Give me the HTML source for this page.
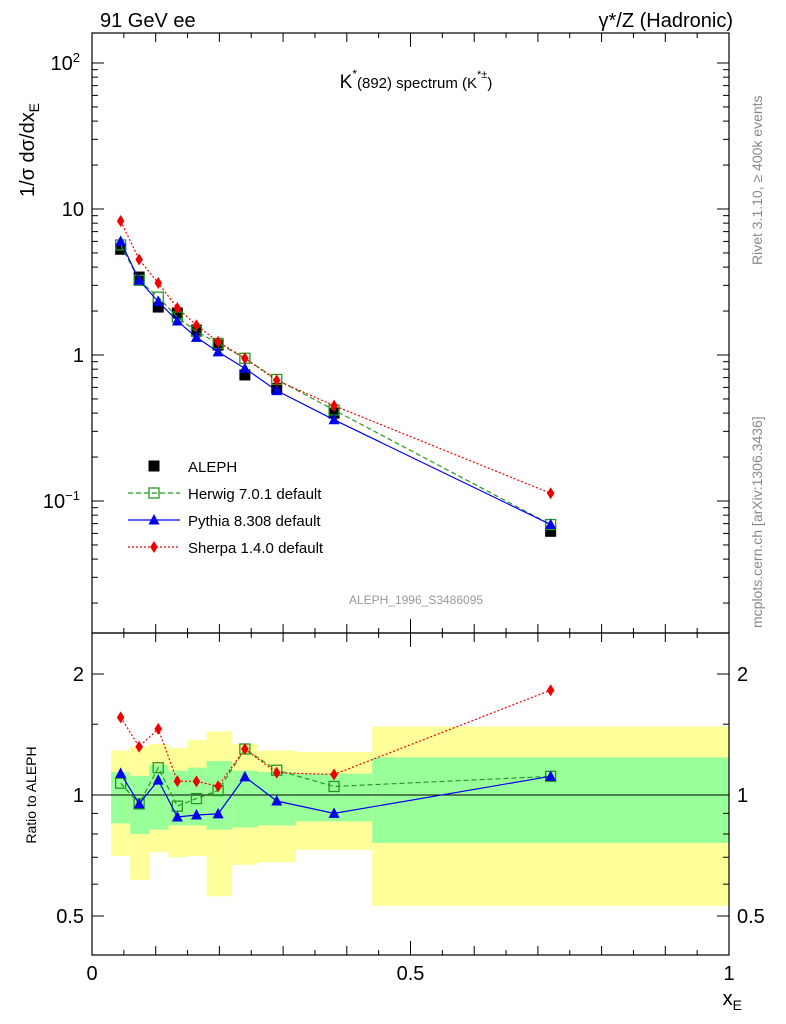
<!DOCTYPE html>
<html><head><meta charset="utf-8">
<style>
body{margin:0;background:#fff;}
svg{display:block;font-family:"Liberation Sans",sans-serif;}
</style></head>
<body>
<svg id="c" width="786" height="1024" viewBox="0 0 786 1024">
<text x="100" y="27" font-size="20">91 GeV ee</text>
<text x="733" y="27" font-size="20" text-anchor="end">γ*/Z (Hadronic)</text>
<text x="416" y="88" font-size="19" text-anchor="middle">K<tspan font-size="12" dy="-10">*</tspan><tspan font-size="15" dy="10">(892) spectrum (K</tspan><tspan font-size="11" dy="-10">*±</tspan><tspan font-size="15" dy="10">)</tspan></text>
<text x="416" y="604" font-size="12" fill="#999" text-anchor="middle">ALEPH_1996_S3486095</text>
<text transform="translate(762,265) rotate(-90)" font-size="14" fill="#888">Rivet 3.1.10, ≥ 400k events</text>
<text transform="translate(762,628) rotate(-90)" font-size="14" fill="#888">mcplots.cern.ch [arXiv:1306.3436]</text>
<text transform="translate(34,150) rotate(-90)" font-size="20" text-anchor="middle">1/σ dσ/dx<tspan font-size="14" dy="5">E</tspan></text>
<text transform="translate(36,795) rotate(-90)" font-size="14" text-anchor="middle">Ratio to ALEPH</text>
<text x="742" y="1005" font-size="20" text-anchor="end">x<tspan font-size="14" dy="5">E</tspan></text>
<g id="g"></g>
</svg>
<script>
const xVals=[0.045,0.074,0.104,0.134,0.164,0.198,0.240,0.290,0.380,0.720];
const binEdges=[0.03,0.06,0.09,0.12,0.15,0.18,0.22,0.26,0.32,0.44,1.0];
const aleph=[5.3,3.42,2.13,1.94,1.48,1.17,0.73,0.59,0.40,0.062];
const herwig=[5.67,3.25,2.49,1.82,1.45,1.2,0.95,0.68,0.42,0.069];
const pythia=[6.0,3.25,2.32,1.71,1.32,1.05,0.81,0.57,0.36,0.069];
const sherpa=[8.27,4.51,3.11,2.10,1.6,1.23,0.95,0.67,0.45,0.113];
const yellowUp=[1.29,1.32,1.34,1.31,1.37,1.44,1.34,1.29,1.28,1.48];
const yellowDn=[0.705,0.615,0.72,0.70,0.705,0.56,0.67,0.68,0.73,0.53];
const greenUp=[1.14,1.115,1.19,1.15,1.17,1.215,1.15,1.14,1.13,1.24];
const greenDn=[0.85,0.80,0.82,0.84,0.84,0.82,0.83,0.84,0.86,0.76];
const ns="http://www.w3.org/2000/svg";
const G=document.getElementById('g');
const L=92,R=729,T=33,M=633,B=955;
const X=v=>L+v*(R-L);
const Y=v=>355-146*Math.log10(v);
const RY=v=>795-121*Math.log2(v);
function mk(t,a,p){const e=document.createElementNS(ns,t);for(const k in a)e.setAttribute(k,a[k]);(p||G).appendChild(e);return e;}
for(let i=0;i<10;i++){
 const x0=X(binEdges[i]),x1=X(binEdges[i+1]);
 let e=mk('rect',{x:x0,y:RY(yellowUp[i]),width:x1-x0,height:RY(yellowDn[i])-RY(yellowUp[i]),fill:'#ffff99'});
 
 
 e=mk('rect',{x:x0,y:RY(greenUp[i]),width:x1-x0,height:RY(greenDn[i])-RY(greenUp[i]),fill:'#99ff99'});
 
 
}
mk('line',{x1:L,x2:R,y1:RY(1),y2:RY(1),stroke:'#000','stroke-width':1});
mk('rect',{x:L,y:T,width:R-L,height:M-T,fill:'none',stroke:'#000','stroke-width':1.2});
mk('rect',{x:L,y:M,width:R-L,height:B-M,fill:'none',stroke:'#000','stroke-width':1.2});
for(let d=-2;d<=2;d++){for(let m=1;m<10;m++){const v=m*Math.pow(10,d);const y=Y(v);if(y<T||y>M)continue;const len=m==1?12:6;
 mk('line',{x1:L,x2:L+len,y1:y,y2:y,stroke:'#000'});mk('line',{x1:R,x2:R-len,y1:y,y2:y,stroke:'#000'});}}
const yl=[[100,'10<tspan font-size="13" dy="-8">2</tspan>'],[10,'10'],[1,'1'],[0.1,'10<tspan font-size="13" dy="-8">−1</tspan>']];
yl.forEach(([v,s])=>{const t=mk('text',{x:v>=1&&v<100?84:80,y:Y(v)+7,'font-size':20,'text-anchor':'end'});t.innerHTML=s;
 
 });
[0.5,0.6,0.7,0.8,0.9,1,1.5,2].forEach(v=>{const y=RY(v);const len=(v==0.5||v==1||v==2)?12:6;
 mk('line',{x1:L,x2:L+len,y1:y,y2:y,stroke:'#000'});mk('line',{x1:R,x2:R-len,y1:y,y2:y,stroke:'#000'});});
[[0.5,'0.5'],[1,'1'],[2,'2']].forEach(([v,s])=>{
 let t=mk('text',{x:84,y:RY(v)+7,'font-size':20,'text-anchor':'end'});t.textContent=s;
 
 
 t=mk('text',{x:737,y:RY(v)+7,'font-size':20});t.textContent=s;
 
 });
for(let i=0;i<=20;i++){const v=i/20,x=X(v);const len=i%10==0?14:(i%2==0?9:5);
 mk('line',{x1:x,x2:x,y1:M,y2:M-len,stroke:'#000'});mk('line',{x1:x,x2:x,y1:M,y2:M+len,stroke:'#000'});
 mk('line',{x1:x,x2:x,y1:B,y2:B-len,stroke:'#000'});mk('line',{x1:x,x2:x,y1:T,y2:T+len,stroke:'#000'});}
[[0,'0'],[0.5,'0.5'],[1,'1']].forEach(([v,s])=>{const t=mk('text',{x:X(v),y:980,'font-size':20,'text-anchor':'middle'});t.textContent=s;
 
 });
function marker(type,x,y,col){
 if(type=='sq')return mk('rect',{x:x-5.5,y:y-5.5,width:11,height:11,fill:'#000'});
 if(type=='osq')return mk('rect',{x:x-5,y:y-5,width:10,height:10,fill:'none',stroke:col,'stroke-width':1.3});
 if(type=='tri')return mk('path',{d:`M${x} ${y-6}L${x+5.5} ${y+4.5}L${x-5.5} ${y+4.5}Z`,fill:col});
 if(type=='dia')return mk('path',{d:`M${x} ${y-6}L${x+3.8} ${y}L${x} ${y+6}L${x-3.8} ${y}Z`,fill:col});
}
xVals.forEach((x,i)=>{const m=marker('sq',X(x),Y(aleph[i]));
 
 });
const series=[['herwig',herwig,'#229922','5,3','osq'],['pythia',pythia,'#0000ee','','tri'],['sherpa',sherpa,'#ee0000','2,2','dia']];
series.forEach(([n,vals,col,dash,mt])=>{
 let p=mk('polyline',{points:xVals.map((x,i)=>X(x)+','+Y(vals[i])).join(' '),fill:'none',stroke:col,'stroke-width':1.2,'stroke-dasharray':dash});
 
 
 p=mk('polyline',{points:xVals.map((x,i)=>X(x)+','+RY(vals[i]/aleph[i])).join(' '),fill:'none',stroke:col,'stroke-width':1.2,'stroke-dasharray':dash});
 
 
 xVals.forEach((x,i)=>{let m=marker(mt,X(x),Y(vals[i]),col);
  
  
  m=marker(mt,X(x),RY(vals[i]/aleph[i]),col);
  
  });
});
const leg=[['ALEPH','sq','#000',''],['Herwig 7.0.1 default','osq','#229922','5,3'],['Pythia 8.308 default','tri','#0000ee',''],['Sherpa 1.4.0 default','dia','#ee0000','2,2']];
leg.forEach(([s,mt,col,dash],i)=>{const y=466+i*27;
 if(i>0){const l=mk('line',{x1:128,x2:180,y1:y,y2:y,stroke:col,'stroke-width':1.2,'stroke-dasharray':dash});
  
  }
 const m=marker(mt,154,y,col);
 
 
 const t=mk('text',{x:188,y:y+6,'font-size':15});t.textContent=s;
 
 });
</script>
</body></html>
